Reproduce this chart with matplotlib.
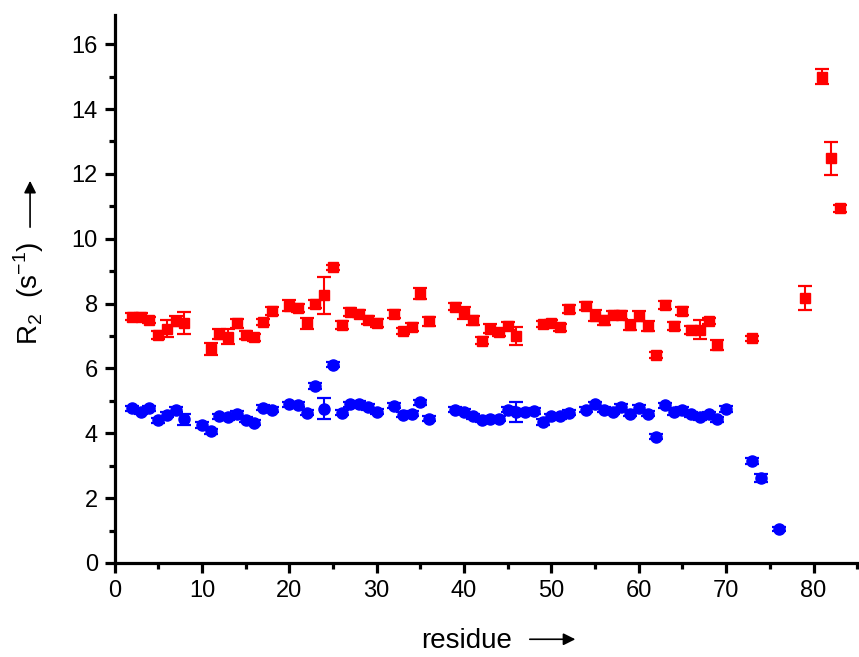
import matplotlib
matplotlib.use("Agg")
import matplotlib.pyplot as plt
from matplotlib.ticker import MultipleLocator

plt.rcParams['font.family'] = ['Liberation Sans', 'DejaVu Sans']

red_res = [2, 3, 4, 5, 6, 7, 8, 11, 12, 13, 14, 15, 16, 17, 18, 20, 21, 22, 23, 24,
           25, 26, 27, 28, 29, 30, 32, 33, 34, 35, 36, 39, 40, 41, 42, 43, 44, 45, 46,
           49, 50, 51, 52, 54, 55, 56, 57, 58, 59, 60, 61, 62, 63, 64, 65, 66, 67, 68,
           69, 73, 79, 81, 82, 83]
red_r2 = [7.6, 7.6, 7.5, 7.04, 7.22, 7.46, 7.39, 6.6, 7.07, 6.98, 7.39, 7.04, 6.96, 7.44,
          7.76, 7.94, 7.86, 7.39, 7.98, 8.25, 9.12, 7.35, 7.73, 7.69, 7.5, 7.39, 7.68,
          7.15, 7.27, 8.3, 7.45, 7.91, 7.71, 7.48, 6.86, 7.23, 7.11, 7.32, 7.0, 7.37,
          7.4, 7.27, 7.84, 7.92, 7.63, 7.48, 7.66, 7.66, 7.35, 7.61, 7.32, 6.42, 7.96,
          7.32, 7.76, 7.19, 7.19, 7.46, 6.73, 6.93, 8.17, 15.0, 12.48, 10.94]
red_err = [0.12, 0.12, 0.1, 0.12, 0.26, 0.15, 0.34, 0.17, 0.15, 0.23, 0.15, 0.12, 0.1,
           0.1, 0.12, 0.17, 0.12, 0.17, 0.12, 0.57, 0.08, 0.12, 0.12, 0.1, 0.12, 0.12,
           0.12, 0.1, 0.12, 0.17, 0.15, 0.12, 0.17, 0.15, 0.12, 0.15, 0.12, 0.12, 0.27,
           0.1, 0.1, 0.1, 0.12, 0.12, 0.17, 0.15, 0.12, 0.12, 0.15, 0.15, 0.15, 0.1,
           0.12, 0.12, 0.12, 0.12, 0.29, 0.1, 0.15, 0.08, 0.36, 0.23, 0.5, 0.1]

blue_res = [2, 3, 4, 5, 6, 7, 8, 10, 11, 12, 13, 14, 15, 16, 17, 18, 20, 21, 22, 23, 24,
            25, 26, 27, 28, 29, 30, 32, 33, 34, 35, 36, 39, 40, 41, 42, 43, 44, 45, 46,
            47, 48, 49, 50, 51, 52, 54, 55, 56, 57, 58, 59, 60, 61, 62, 63, 64, 65, 66,
            67, 68, 69, 70, 73, 74, 76]
blue_r2 = [4.77, 4.66, 4.77, 4.4, 4.57, 4.73, 4.44, 4.25, 4.06, 4.52, 4.5, 4.6, 4.42,
           4.33, 4.79, 4.73, 4.89, 4.88, 4.63, 5.46, 4.76, 6.12, 4.63, 4.89, 4.91, 4.81,
           4.66, 4.85, 4.57, 4.6, 4.96, 4.45, 4.73, 4.67, 4.52, 4.42, 4.45, 4.45, 4.73,
           4.65, 4.67, 4.69, 4.35, 4.52, 4.52, 4.64, 4.73, 4.89, 4.73, 4.66, 4.81, 4.6,
           4.79, 4.6, 3.89, 4.86, 4.65, 4.73, 4.58, 4.5, 4.58, 4.43, 4.75, 3.15, 2.63, 1.06]
blue_err = [0.08, 0.08, 0.08, 0.08, 0.08, 0.08, 0.17, 0.1, 0.08, 0.08, 0.08, 0.08, 0.08,
            0.08, 0.08, 0.08, 0.08, 0.08, 0.08, 0.08, 0.32, 0.08, 0.08, 0.08, 0.08, 0.08,
            0.08, 0.08, 0.08, 0.08, 0.08, 0.08, 0.08, 0.08, 0.08, 0.08, 0.08, 0.08, 0.08,
            0.3, 0.08, 0.08, 0.08, 0.08, 0.08, 0.08, 0.08, 0.08, 0.08, 0.08, 0.08, 0.08,
            0.08, 0.08, 0.08, 0.08, 0.08, 0.08, 0.08, 0.08, 0.08, 0.08, 0.08, 0.1, 0.12, 0.06]

fig = plt.figure(figsize=(8.59, 6.57), dpi=100)
ax = fig.add_axes([0.1333, 0.1431, 0.8667, 0.834])

ax.errorbar(red_res, red_r2, yerr=red_err, fmt='s', color='#FF0000', ms=7,
            capsize=5, elinewidth=1.5, capthick=1.6)
ax.errorbar(blue_res, blue_r2, yerr=blue_err, fmt='o', color='#0000FF', ms=8,
            capsize=5, elinewidth=1.5, capthick=1.6)

ax.set_xlim(0, 85.2)
ax.set_ylim(0, 16.9)
for s in ['top', 'right']:
    ax.spines[s].set_visible(False)
for s in ['left', 'bottom']:
    ax.spines[s].set_linewidth(2.3)

ax.xaxis.set_major_locator(MultipleLocator(10))
ax.xaxis.set_minor_locator(MultipleLocator(5))
ax.yaxis.set_major_locator(MultipleLocator(2))
ax.yaxis.set_minor_locator(MultipleLocator(1))
ax.tick_params(which='major', direction='out', length=7, width=2.3, labelsize=17, pad=5)
ax.tick_params(which='minor', direction='out', length=4, width=2.3)

fig.text(0.543, 0.004, 'residue', ha='center', va='bottom', fontsize=20)
ax.annotate('', xy=(0.673, 0.027), xytext=(0.6135, 0.027), xycoords='figure fraction',
            arrowprops=dict(arrowstyle='-|>', color='black', lw=1.2, mutation_scale=18))
fig.text(0.033, 0.554, r'R$_\mathregular{2}$  (s$^\mathregular{-1}$)', ha='center',
         va='center', rotation=90, fontsize=20)
ax.annotate('', xy=(0.035, 0.729), xytext=(0.035, 0.650), xycoords='figure fraction',
            arrowprops=dict(arrowstyle='-|>', color='black', lw=1.2, mutation_scale=18))

fig.savefig('out.png', dpi=100)
